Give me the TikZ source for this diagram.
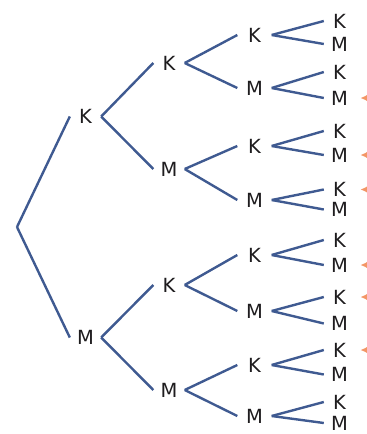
\documentclass[tikz,border=0pt]{standalone}
\usepackage{fontspec}
\setsansfont{DejaVu Sans}
\usetikzlibrary{arrows.meta, positioning}
\definecolor{treeblue}{RGB}{63,90,145}
\definecolor{pickorange}{RGB}{243,150,102}
\definecolor{labelgray}{RGB}{30,28,30}
\tikzstyle{outcome} = [text=labelgray, font=\sffamily\fontsize{19.5}{19.5}\selectfont, inner sep=0pt, minimum width=31pt]
\tikzstyle{branch} = [draw=treeblue, line width=2.4pt]
\tikzstyle{pickarrow} = [draw=pickorange, line width=2pt]

\begin{document}
\begin{tikzpicture}[x=1pt, y=-1pt, >={Latex[length=10pt,width=11pt]}]
    \useasboundingbox (0,0) rectangle (367,434);
    \coordinate (root) at (17,227);
    % first draw
    \node [outcome] (k) at (85.5,116.5) {K};
    \node [outcome] (m) at (85.5,337.5) {M};
    % second draw
    \node [outcome] (kk) at (169,63) {K};
    \node [outcome] (km) at (169,169) {M};
    \node [outcome] (mk) at (169,285) {K};
    \node [outcome] (mm) at (169,390) {M};
    % third draw
    \node [outcome, minimum width=34pt] (kkk) at (254.5,35) {K};
    \node [outcome, minimum width=34pt] (kkm) at (254.5,88) {M};
    \node [outcome, minimum width=34pt] (kmk) at (254.5,146) {K};
    \node [outcome, minimum width=34pt] (kmm) at (254.5,200) {M};
    \node [outcome, minimum width=34pt] (mkk) at (254.5,255) {K};
    \node [outcome, minimum width=34pt] (mkm) at (254.5,311) {M};
    \node [outcome, minimum width=34pt] (mmk) at (254.5,365) {K};
    \node [outcome, minimum width=34pt] (mmm) at (254.5,416) {M};
    % fourth draw
    \node [outcome] (kkkk) at (339.5,21) {K};
    \node [outcome] (kkkm) at (339.5,44) {M};
    \node [outcome] (kkmk) at (339.5,72) {K};
    \node [outcome] (kkmm) at (339.5,98) {M};
    \node [outcome] (kmkk) at (339.5,131) {K};
    \node [outcome] (kmkm) at (339.5,155) {M};
    \node [outcome] (kmmk) at (339.5,189.5) {K};
    \node [outcome] (kmmm) at (339.5,209.5) {M};
    \node [outcome] (mkkk) at (339.5,240) {K};
    \node [outcome] (mkkm) at (339.5,265) {M};
    \node [outcome] (mkmk) at (339.5,297) {K};
    \node [outcome] (mkmm) at (339.5,323.5) {M};
    \node [outcome] (mmkk) at (339.5,350) {K};
    \node [outcome] (mmkm) at (339.5,374.5) {M};
    \node [outcome] (mmmk) at (339.5,402) {K};
    \node [outcome] (mmmm) at (339.5,423) {M};

    \draw [branch] (root) -- (k.west);
    \draw [branch] (root) -- (m.west);
    \foreach \p in {k,m,kk,km,mk,mm,kkk,kkm,kmk,kmm,mkk,mkm,mmk,mmm} {
        \draw [branch] (\p.east) -- (\p k.west);
        \draw [branch] (\p.east) -- (\p m.west);
    }
    % outcomes with two K
    \foreach \n in {kkmm,kmkm,kmmk,mkkm,mkmk,mmkk}
        \draw [pickarrow, <-] ([xshift=21pt]\n.center) -- ++(30,0);
\end{tikzpicture}
\end{document}
